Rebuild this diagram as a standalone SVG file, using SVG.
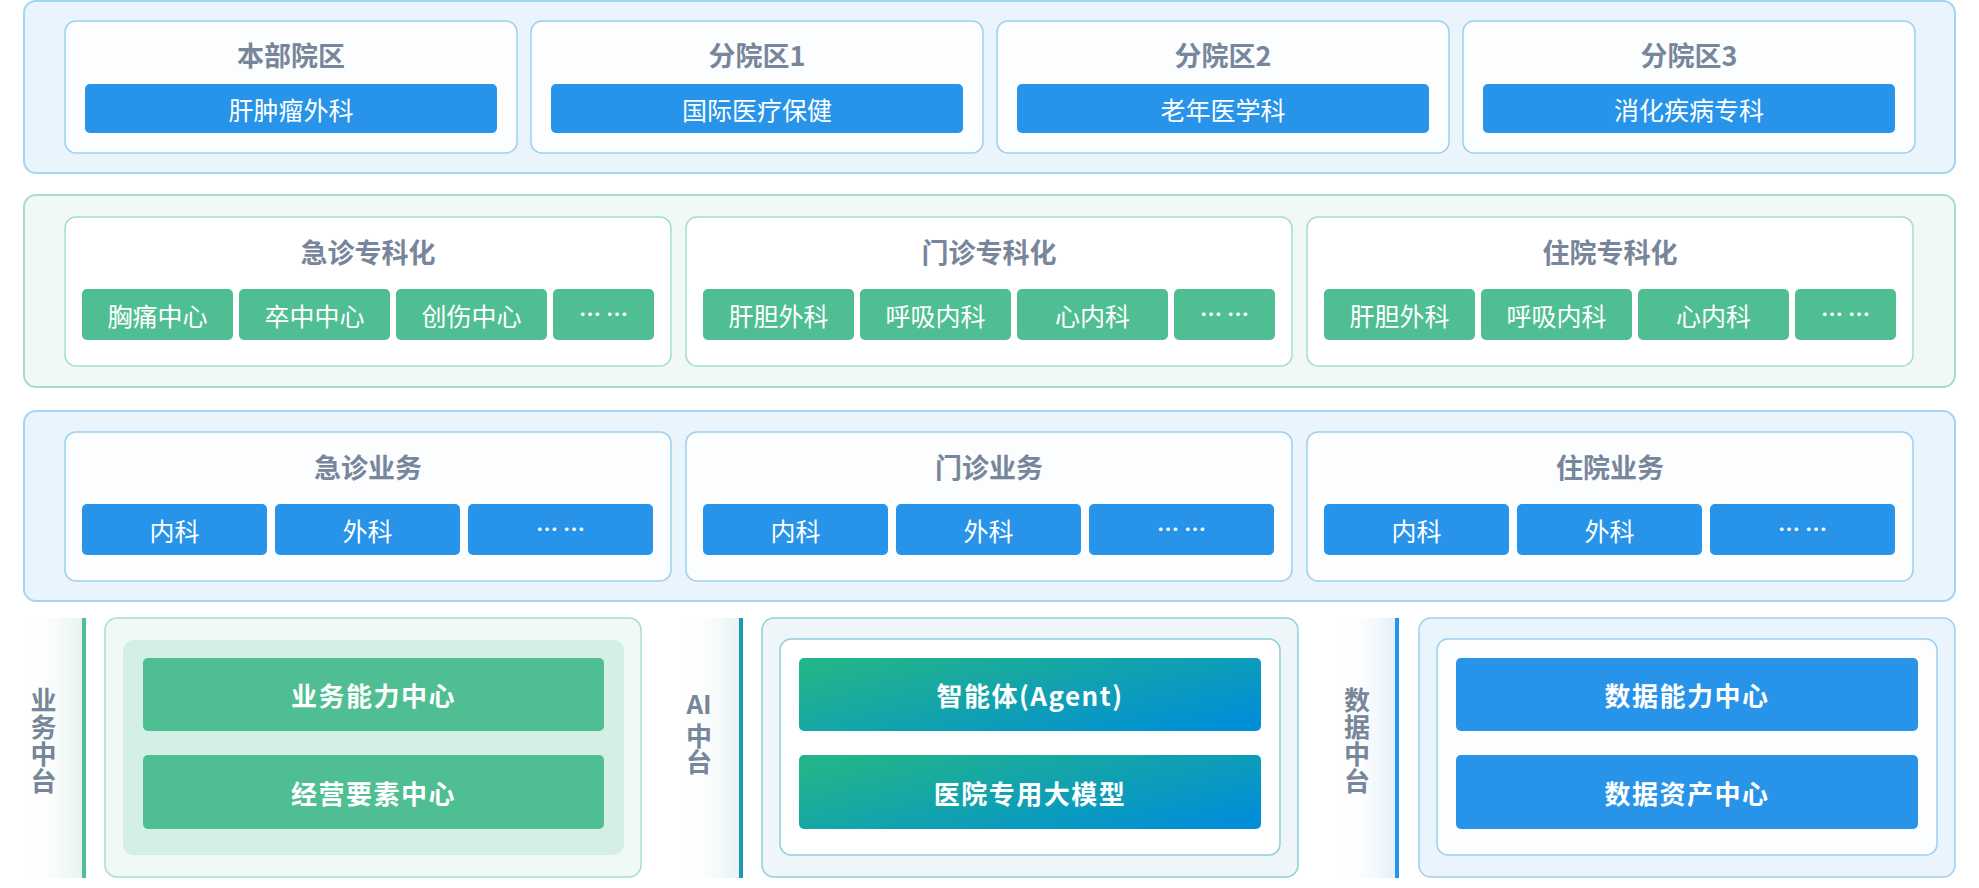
<svg xmlns="http://www.w3.org/2000/svg" width="1979" height="888" viewBox="0 0 1979 888">
<defs>
<style>
text{font-family:"Noto Sans CJK SC","Noto Sans",sans-serif;text-anchor:middle;dominant-baseline:central}
.outB{fill:#EAF4FD;stroke:#A3D5F2;stroke-width:2}
.outG{fill:#F0F9F6;stroke:#A6DEC8;stroke-width:2}
.inB{fill:#FBFDFF;stroke:#9CD0EE;stroke-width:1.5}
.inG{fill:#FFFFFF;stroke:#A6DEC8;stroke-width:1.5}
.btB{fill:#2793E9}
.btG{fill:#4FBE93}
.ttl{font-size:27px;font-weight:700;fill:#77869A}
.bt{font-size:25px;fill:#FFFFFF}
.dots{font-size:22px;fill:#FFFFFF;font-weight:700}
.bb{font-size:26px;font-weight:700;fill:#FFFFFF;letter-spacing:1.5px}
.vl{font-size:26px;font-weight:700;fill:#77869A}
.vt{font-size:26px;font-weight:700;fill:#77869A;writing-mode:vertical-rl;text-anchor:start;letter-spacing:1px}
</style>
<linearGradient id="gAI" x1="0" y1="0.2" x2="1" y2="0.8">
<stop offset="0" stop-color="#22B48A"/>
<stop offset="1" stop-color="#008FD6"/>
</linearGradient>
<linearGradient id="lpG" x1="0" y1="0" x2="1" y2="0">
<stop offset="0" stop-color="#FFFFFF" stop-opacity="0"/>
<stop offset="1" stop-color="#E6F2EE"/>
</linearGradient>
<linearGradient id="lpA" x1="0" y1="0" x2="1" y2="0">
<stop offset="0" stop-color="#FFFFFF" stop-opacity="0"/>
<stop offset="1" stop-color="#E6F1F4"/>
</linearGradient>
<linearGradient id="lpB" x1="0" y1="0" x2="1" y2="0">
<stop offset="0" stop-color="#FFFFFF" stop-opacity="0"/>
<stop offset="1" stop-color="#E3EEF9"/>
</linearGradient>
</defs>
<rect width="1979" height="888" fill="#FFFFFF"/>

<!-- Row 1: campuses -->
<g id="row-campus">
<rect class="outB" x="24" y="1" width="1931" height="172" rx="12"/>
<g id="campus-main">
<rect class="inB" x="65" y="21" width="452" height="132" rx="11"/>
<text class="ttl" x="291" y="54.5">本部院区</text>
<rect class="btB" x="85" y="84" width="412" height="49" rx="5"/>
<text class="bt" x="291" y="108.5">肝肿瘤外科</text>
</g>
<g id="campus-1">
<rect class="inB" x="531" y="21" width="452" height="132" rx="11"/>
<text class="ttl" x="757" y="54.5">分院区1</text>
<rect class="btB" x="551" y="84" width="412" height="49" rx="5"/>
<text class="bt" x="757" y="108.5">国际医疗保健</text>
</g>
<g id="campus-2">
<rect class="inB" x="997" y="21" width="452" height="132" rx="11"/>
<text class="ttl" x="1223" y="54.5">分院区2</text>
<rect class="btB" x="1017" y="84" width="412" height="49" rx="5"/>
<text class="bt" x="1223" y="108.5">老年医学科</text>
</g>
<g id="campus-3">
<rect class="inB" x="1463" y="21" width="452" height="132" rx="11"/>
<text class="ttl" x="1689" y="54.5">分院区3</text>
<rect class="btB" x="1483" y="84" width="412" height="49" rx="5"/>
<text class="bt" x="1689" y="108.5">消化疾病专科</text>
</g>
</g>

<!-- Row 2: specialization -->
<g id="row-special">
<rect class="outG" x="24" y="195" width="1931" height="192" rx="12"/>
<g id="sp-emergency">
<rect class="inG" x="65" y="217" width="606" height="149" rx="11"/>
<text class="ttl" x="368" y="251">急诊专科化</text>
<rect class="btG" x="82" y="289" width="151" height="51" rx="5"/><text class="bt" x="157.5" y="314.5">胸痛中心</text>
<rect class="btG" x="239" y="289" width="151" height="51" rx="5"/><text class="bt" x="314.5" y="314.5">卒中中心</text>
<rect class="btG" x="396" y="289" width="151" height="51" rx="5"/><text class="bt" x="471.5" y="314.5">创伤中心</text>
<rect class="btG" x="553" y="289" width="101" height="51" rx="5"/><text class="dots" x="603.5" y="312">… …</text>
</g>
<g id="sp-outpatient">
<rect class="inG" x="686" y="217" width="606" height="149" rx="11"/>
<text class="ttl" x="989" y="251">门诊专科化</text>
<rect class="btG" x="703" y="289" width="151" height="51" rx="5"/><text class="bt" x="778.5" y="314.5">肝胆外科</text>
<rect class="btG" x="860" y="289" width="151" height="51" rx="5"/><text class="bt" x="935.5" y="314.5">呼吸内科</text>
<rect class="btG" x="1017" y="289" width="151" height="51" rx="5"/><text class="bt" x="1092.5" y="314.5">心内科</text>
<rect class="btG" x="1174" y="289" width="101" height="51" rx="5"/><text class="dots" x="1224.5" y="312">… …</text>
</g>
<g id="sp-inpatient">
<rect class="inG" x="1307" y="217" width="606" height="149" rx="11"/>
<text class="ttl" x="1610" y="251">住院专科化</text>
<rect class="btG" x="1324" y="289" width="151" height="51" rx="5"/><text class="bt" x="1399.5" y="314.5">肝胆外科</text>
<rect class="btG" x="1481" y="289" width="151" height="51" rx="5"/><text class="bt" x="1556.5" y="314.5">呼吸内科</text>
<rect class="btG" x="1638" y="289" width="151" height="51" rx="5"/><text class="bt" x="1713.5" y="314.5">心内科</text>
<rect class="btG" x="1795" y="289" width="101" height="51" rx="5"/><text class="dots" x="1845.5" y="312">… …</text>
</g>
</g>

<!-- Row 3: business -->
<g id="row-business">
<rect class="outB" x="24" y="411" width="1931" height="190" rx="12"/>
<g id="bz-emergency">
<rect class="inB" x="65" y="432" width="606" height="149" rx="11"/>
<text class="ttl" x="368" y="466.5">急诊业务</text>
<rect class="btB" x="82" y="504" width="185" height="51" rx="5"/><text class="bt" x="174.5" y="529.5">内科</text>
<rect class="btB" x="275" y="504" width="185" height="51" rx="5"/><text class="bt" x="367.5" y="529.5">外科</text>
<rect class="btB" x="468" y="504" width="185" height="51" rx="5"/><text class="dots" x="560.5" y="527">… …</text>
</g>
<g id="bz-outpatient">
<rect class="inB" x="686" y="432" width="606" height="149" rx="11"/>
<text class="ttl" x="989" y="466.5">门诊业务</text>
<rect class="btB" x="703" y="504" width="185" height="51" rx="5"/><text class="bt" x="795.5" y="529.5">内科</text>
<rect class="btB" x="896" y="504" width="185" height="51" rx="5"/><text class="bt" x="988.5" y="529.5">外科</text>
<rect class="btB" x="1089" y="504" width="185" height="51" rx="5"/><text class="dots" x="1181.5" y="527">… …</text>
</g>
<g id="bz-inpatient">
<rect class="inB" x="1307" y="432" width="606" height="149" rx="11"/>
<text class="ttl" x="1610" y="466.5">住院业务</text>
<rect class="btB" x="1324" y="504" width="185" height="51" rx="5"/><text class="bt" x="1416.5" y="529.5">内科</text>
<rect class="btB" x="1517" y="504" width="185" height="51" rx="5"/><text class="bt" x="1609.5" y="529.5">外科</text>
<rect class="btB" x="1710" y="504" width="185" height="51" rx="5"/><text class="dots" x="1802.5" y="527">… …</text>
</g>
</g>

<!-- Row 4: platforms -->
<g id="platform-business">
<rect x="24" y="618" width="60" height="260" fill="url(#lpG)"/>
<rect x="82" y="618" width="4" height="260" fill="#4FBE93"/>
<text class="vt" x="43.5" y="687.5">业务中台</text>
<rect x="105" y="618" width="536" height="259" rx="12" fill="#F0F9F6" stroke="#A6DEC8" stroke-width="1.5"/>
<rect x="123" y="640" width="501" height="215" rx="11" fill="#D3EFE6"/>
<rect class="btG" x="143" y="658" width="461" height="73" rx="5"/>
<text class="bb" x="373.5" y="694.5">业务能力中心</text>
<rect class="btG" x="143" y="755" width="461" height="74" rx="5"/>
<text class="bb" x="373.5" y="792">经营要素中心</text>
</g>

<g id="platform-ai">
<rect x="681" y="618" width="60" height="260" fill="url(#lpA)"/>
<rect x="739" y="618" width="4" height="260" fill="#189BB5"/>
<text class="vl" x="699" y="702">AI</text>
<text class="vt" x="699" y="723" style="letter-spacing:0">中台</text>
<rect x="762" y="618" width="536" height="259" rx="12" fill="#EEF6F9" stroke="#8FD0D9" stroke-width="1.5"/>
<rect x="780" y="639" width="500" height="216" rx="11" fill="#FFFFFF" stroke="#8FD0D9" stroke-width="1.5"/>
<rect x="799" y="658" width="462" height="73" rx="5" fill="url(#gAI)"/>
<text class="bb" x="1030" y="694.5">智能体(Agent)</text>
<rect x="799" y="755" width="462" height="74" rx="5" fill="url(#gAI)"/>
<text class="bb" x="1030" y="792">医院专用大模型</text>
</g>

<g id="platform-data">
<rect x="1337" y="618" width="60" height="260" fill="url(#lpB)"/>
<rect x="1395" y="618" width="4" height="260" fill="#2793E9"/>
<text class="vt" x="1357" y="687.5">数据中台</text>
<rect x="1419" y="618" width="536" height="259" rx="12" fill="#EAF4FD" stroke="#9CD0EE" stroke-width="1.5"/>
<rect x="1437" y="639" width="500" height="216" rx="11" fill="#FBFDFF" stroke="#9CD0EE" stroke-width="1.5"/>
<rect class="btB" x="1456" y="658" width="462" height="73" rx="5"/>
<text class="bb" x="1687" y="694.5">数据能力中心</text>
<rect class="btB" x="1456" y="755" width="462" height="74" rx="5"/>
<text class="bb" x="1687" y="792">数据资产中心</text>
</g>

<g id="connectors"></g>
</svg>
